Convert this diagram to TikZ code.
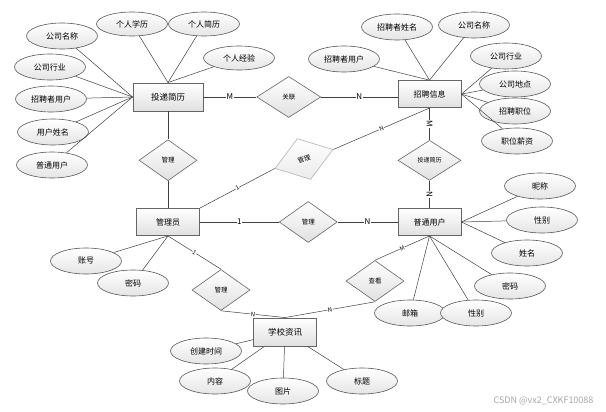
\documentclass[tikz,border=0pt]{standalone}
\usepackage{fontspec}
\setmainfont{Noto Sans CJK SC}
\usetikzlibrary{positioning,shapes.geometric}

\begin{document}
\begin{tikzpicture}[
    x=1pt, y=-1pt,
    entity/.style={draw=black!60, line width=0.9pt, top color=white, bottom color=black!12, minimum width=63pt, minimum height=27pt, inner sep=0pt, font=\fontsize{8}{8}\selectfont},
    attr/.style={ellipse, draw=black!65, line width=0.6pt, top color=white, bottom color=black!10, minimum width=71pt, minimum height=26pt, inner sep=0pt, font=\fontsize{8}{8}\selectfont},
    rel/.style={diamond, draw=black!60, line width=0.6pt, top color=white, bottom color=black!12, minimum width=58pt, minimum height=41pt, inner sep=0pt, font=\fontsize{6.5}{6.5}\selectfont},
    tilt/.style={rel, draw=black!30, bottom color=black!8, rotate=18, minimum width=61pt, minimum height=43pt},
    link/.style={draw=black!75, line width=0.5pt},
    card/.style={font=\fontsize{8}{8}\selectfont, fill=white, inner sep=0.6pt},
    scard/.style={font=\fontsize{6}{6}\selectfont, fill=white, inner sep=0.4pt, sloped},
    node distance=28pt
]
\fill[white] (0,0) rectangle (606,412);
\useasboundingbox (0,0) rectangle (606,412);

% Entities and relations
\node[entity, minimum width=70pt, minimum height=28pt, font=\fontsize{8.5}{8.5}\selectfont] (tdjl) at (168,97) {投递简历};
\node[rel, right=53pt of tdjl, minimum width=64pt] (guanlian) {关联};
\node[rel, below=of tdjl] (gl1) {管理};
\node[entity, below=27pt of gl1] (gly) {管理员};
\node[rel, right=79pt of gly] (gl2) {管理};
\node[entity, right=60pt of gl2] (ptyh) {普通用户};
\node[entity, above=100pt of ptyh] (zpxx) {招聘信息};
\node[rel, below=32pt of zpxx, minimum width=63pt, minimum height=40pt, font=\fontsize{6}{6}\selectfont] (tdjl2) {投递简历};
\node[tilt] (glx) at (304,159) {管理};
\node[rel] (gl3) at (221,290) {管理};
\node[rel] (ck) at (375,281) {查看};
\node[entity, minimum height=28pt, font=\fontsize{8.5}{8.5}\selectfont] (xxzx) at (285,332) {学校资讯};

% Attributes of 投递简历
\node[attr] (gsmc1) at (62,36) {公司名称};
\node[attr, minimum height=24pt] (grxl) at (132,24) {个人学历};
\node[attr, minimum height=24pt] (grjl) at (204,24) {个人简历};
\node[attr, minimum height=24pt] (grjy) at (239,58) {个人经验};
\node[attr] (gshy1) at (50,67) {公司行业};
\node[attr] (zpzyh1) at (51,99) {招聘者用户};
\node[attr] (yhxm) at (53,132) {用户姓名};
\node[attr] (ptyh1) at (52,165) {普通用户};

% Attributes of 招聘信息
\node[attr] (zpzxm) at (397,27) {招聘者姓名};
\node[attr] (gsmc2) at (474,25) {公司名称};
\node[attr] (zpzyh2) at (344,59) {招聘者用户};
\node[attr] (gshy2) at (506,56) {公司行业};
\node[attr] (gsdd) at (515,84) {公司地点};
\node[attr] (zpzw) at (515,111) {招聘职位};
\node[attr] (zwxz) at (517,141) {职位薪资};

% Attributes of 普通用户
\node[attr] (nc) at (540,186) {昵称};
\node[attr] (xb1) at (542,220) {性别};
\node[attr] (xm) at (527,253) {姓名};
\node[attr] (mm1) at (510,286) {密码};
\node[attr] (yx) at (410,313) {邮箱};
\node[attr] (xb2) at (476,313) {性别};

% Attributes of 管理员
\node[attr] (zh) at (86,261) {账号};
\node[attr] (mm2) at (133,283) {密码};

% Attributes of 学校资讯
\node[attr] (cjsj) at (206,351) {创建时间};
\node[attr] (nr) at (215,381) {内容};
\node[attr] (tp) at (283,391) {图片};
\node[attr] (bt) at (362,381) {标题};

% Relationship lines
\draw[link] (tdjl) -- node[card]{M} (guanlian);
\draw[link] (guanlian) -- node[card]{N} (guanlian -| zpxx.west);
\draw[link] (tdjl) -- (gl1);
\draw[link] (gl1) -- (gly);
\draw[link] (gly) -- node[card]{1} (gl2);
\draw[link] (gl2) -- node[card]{N} (ptyh);
\draw[link] (zpxx) -- node[card, sloped]{M} (tdjl2);
\draw[link] (tdjl2) -- node[card, sloped]{N} (ptyh);
\draw[link] (gly.north east) -- node[scard]{1} (glx.west);
\draw[link] (glx.east) -- node[scard]{N} (zpxx.south);
\draw[link] (gly.south) -- node[scard]{1} (gl3.north);
\draw[link] (gl3.south) -- node[scard]{N} (xxzx.north);
\draw[link] (ptyh.south) -- node[scard]{M} (ck.north);
\draw[link] (ck.south) -- node[scard]{N} (xxzx.north);

% Attribute lines
\draw[link] (gsmc1) -- (tdjl.west);
\draw[link] (gshy1) -- (tdjl.west);
\draw[link] (zpzyh1) -- (tdjl.west);
\draw[link] (yhxm) -- (tdjl.west);
\draw[link] (ptyh1) -- (tdjl.west);
\draw[link] (grxl) -- (tdjl.north);
\draw[link] (grjl) -- (tdjl.north);
\draw[link] (grjy) -- (tdjl.north);
\draw[link] (zpzxm) -- (zpxx.north);
\draw[link] (gsmc2) -- (zpxx.north);
\draw[link] (zpzyh2) -- (zpxx.north);
\draw[link] (gshy2) -- (zpxx.east);
\draw[link] (gsdd) -- (zpxx.east);
\draw[link] (zpzw) -- (zpxx.east);
\draw[link] (zwxz) -- (zpxx.east);
\draw[link] (nc) -- (ptyh.east);
\draw[link] (xb1) -- (ptyh.east);
\draw[link] (xm) -- (ptyh.east);
\draw[link] (mm1) -- (ptyh.south);
\draw[link] (xb2) -- (ptyh.south);
\draw[link] (yx) -- (ptyh.south);
\draw[link] (zh) -- (gly.south);
\draw[link] (mm2) -- (gly.south);
\draw[link] (cjsj) -- (xxzx);
\draw[link] (nr) -- (xxzx);
\draw[link] (tp) -- (xxzx);
\draw[link] (bt) -- (xxzx);

% Watermark
\node[font=\fontsize{9}{9}\selectfont, text=black!35, anchor=east] (wm) at (597,401) {CSDN @vx2\_CXKF10088};
\end{tikzpicture}
\end{document}
